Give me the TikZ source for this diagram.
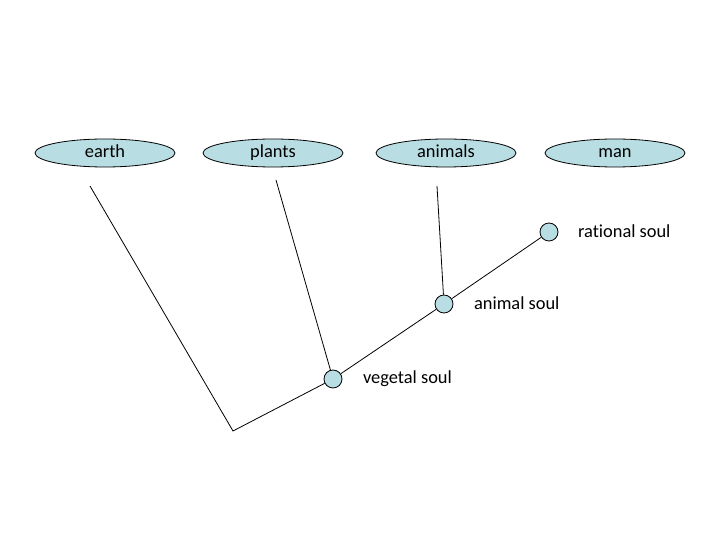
\documentclass[tikz,border=0pt]{standalone}
\usepackage{fontspec}
\setmainfont{Carlito}[Ligatures={NoCommon}]
\usetikzlibrary{shapes.geometric}
\definecolor{soulblue}{RGB}{184,221,227}
\begin{document}
\begin{tikzpicture}[x=0.5pt,y=-0.5pt,every node/.style={font=\fontsize{9.2}{11}\selectfont},
  realm/.style={ellipse,draw,fill=soulblue,line width=0.4pt,minimum width=70pt,minimum height=14pt,inner sep=0pt,text height=6.3pt,text depth=1.8pt},
  soul/.style={circle,draw,fill=soulblue,line width=0.4pt,minimum size=9pt,inner sep=0pt}]
  \useasboundingbox (0,0) rectangle (720,540);
  % realms of being
  \node [realm] (earth) at (105,153) {earth};
  \node [realm] (plants) at (273,153) {plants};
  \node [realm] (animals) at (446,153) {animals};
  \node [realm] (man) at (615,153) {man};
  % souls
  \node [soul] (vegetal) at (333,379) {};
  \node [soul] (animal) at (444,304) {};
  \node [soul] (rational) at (549,232) {};
  \node [right] at (356,379) {vegetal soul};
  \node [right] at (467,303) {animal soul};
  \node [right] at (571,231) {rational soul};
  % branches
  \coordinate (root) at (233,431);
  \coordinate (e) at (90,186);
  \coordinate (p) at (276,180);
  \coordinate (a) at (437,186);
  \draw [line width=0.4pt] (e) -- (root) -- (vegetal);
  \draw [line width=0.4pt] (p) -- (vegetal);
  \draw [line width=0.4pt] (vegetal) -- (animal);
  \draw [line width=0.4pt] (a) -- (animal);
  \draw [line width=0.4pt] (animal) -- (rational);
\end{tikzpicture}
\end{document}
